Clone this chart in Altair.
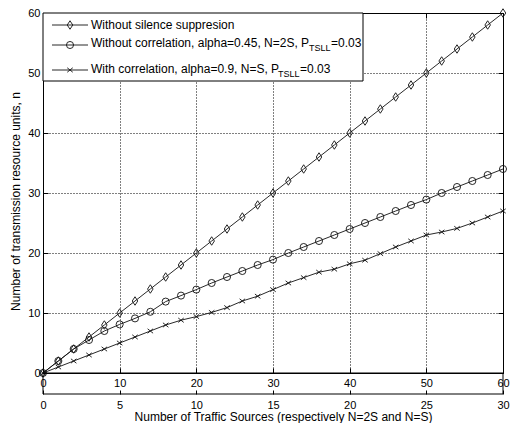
import altair as alt
import pandas as pd

# ---------------- data ----------------
sources_2s = list(range(0, 62, 2))  # upper x scale, 0..60
without_suppression = [0, 2, 4, 6, 8, 10, 12, 14, 16, 18, 20, 22, 24, 26, 28, 30,
                       32, 34, 36, 38, 40, 42, 44, 46, 48, 50, 52, 54, 56, 58, 60]
without_correlation = [0, 2, 4, 5.5, 7, 8.1, 9.1, 10.2, 11.9, 12.9, 13.9, 15, 16, 17, 18, 18.9,
                       20, 21, 22, 23, 24, 25, 26, 27, 28, 28.9, 30, 31, 32, 33, 34]
with_correlation = [0, 1, 2, 3, 4, 5, 6, 7, 8, 8.8, 9.4, 10.1, 10.9, 12, 12.8, 13.9,
                    15, 15.9, 16.8, 17.3, 18.2, 18.8, 19.9, 21, 22, 23, 23.5, 24.1, 25, 26, 27]

x_ticks_main = [0, 10, 20, 30, 40, 50, 60]
x_ticks_sources = [0, 5, 10, 15, 20, 25, 30]
y_ticks = [0, 10, 20, 30, 40, 50, 60]

legend_text = ["Without silence suppresion",
               "Without correlation, alpha=0.45, N=2S, P",
               "With correlation, alpha=0.9, N=S, P"]
legend_sub = ["", "TSLL", "TSLL"]
legend_tail = ["", "=0.03", "=0.03"]

x_title = "Number of Traffic Sources (respectively N=2S and N=S)"
y_title = "Number of transmission resource units, n"

# ---------------- layout / style ----------------
W, H = 460, 360
FONT = "Liberation Sans"
DIAMOND = "M0,-1L0.65,0L0,1L-0.65,0Z"
XMARK = "M-1,-0.8L1,0.8M-1,0.8L1,-0.8"
shapes = [DIAMOND, "circle", XMARK]
sizes = [72, 50, 30]
series_values = [without_suppression, without_correlation, with_correlation]

one = pd.DataFrame({"k": [0]})

x_enc = alt.X("x:Q", scale=alt.Scale(domain=[0, 60], nice=False, zero=False),
              axis=alt.Axis(orient="bottom", values=x_ticks_main, ticks=False, domain=False,
                            labelPadding=4, labelFlush=False, labelFontSize=11, labelColor="black",
                            grid=True, gridColor="black", gridDash=[1, 2], gridWidth=1,
                            title=x_title, titleFontSize=12, titleFontWeight="normal",
                            titleColor="black", titleX=240, titleY=43, titleBaseline="middle"))
y_enc = alt.Y("y:Q", scale=alt.Scale(domain=[0, 60], nice=False, zero=False),
              axis=alt.Axis(orient="left", values=y_ticks, ticks=False, domain=False,
                            labelPadding=3, labelFontSize=11, labelColor="black",
                            grid=True, gridColor="black", gridDash=[1, 2], gridWidth=1,
                            title=y_title, titleFontSize=12, titleFontWeight="normal",
                            titleColor="black", titleX=-28, titleY=188, titleBaseline="middle"))

data_layers = []
for vals, shp, sz in zip(series_values, shapes, sizes):
    d = pd.DataFrame({"x": sources_2s, "y": vals})
    base = alt.Chart(d).encode(x=x_enc, y=y_enc)
    data_layers.append(base.mark_line(color="#111", strokeWidth=0.9))
    data_layers.append(base.mark_point(shape=shp, size=sz, filled=False, color="#111",
                                       strokeWidth=0.9, opacity=1))

# ---------------- legend (drawn inside the plot) ----------------
leg = [alt.Chart(one).mark_rect(fill="white", stroke="black", strokeWidth=1).encode(
    x=alt.value(0), x2=alt.value(320), y=alt.value(0), y2=alt.value(68))]
row_sym_y = [12, 32, 57]
row_txt_y = [12, 30, 56]
sub_x = [0, 266, 235]
tail_x = [0, 288, 257]
for i in range(3):
    leg.append(alt.Chart(one).mark_rule(color="#111", strokeWidth=0.9).encode(
        x=alt.value(9), x2=alt.value(45), y=alt.value(row_sym_y[i])))
    leg.append(alt.Chart(one).mark_point(shape=shapes[i], size=sizes[i], filled=False,
                                         color="#111", strokeWidth=0.9, opacity=1).encode(
        x=alt.value(27), y=alt.value(row_sym_y[i])))
    leg.append(alt.Chart(one).mark_text(align="left", baseline="middle", fontSize=12,
                                        font=FONT, color="black").encode(
        x=alt.value(48), y=alt.value(row_txt_y[i]), text=alt.value(legend_text[i])))
    if legend_sub[i]:
        leg.append(alt.Chart(one).mark_text(align="left", baseline="middle", fontSize=9,
                                            font=FONT, color="black").encode(
            x=alt.value(sub_x[i]), y=alt.value(row_txt_y[i] + 5), text=alt.value(legend_sub[i])))
        leg.append(alt.Chart(one).mark_text(align="left", baseline="middle", fontSize=12,
                                            font=FONT, color="black").encode(
            x=alt.value(tail_x[i]), y=alt.value(row_txt_y[i]), text=alt.value(legend_tail[i])))

# box of the second (lower) x axis
leg.append(alt.Chart(one).mark_rect(fillOpacity=0, stroke="black", strokeWidth=1).encode(
    x=alt.value(0), x2=alt.value(W), y=alt.value(H), y2=alt.value(381)))

main = alt.layer(*data_layers, *leg)

# ---------------- inward tick marks (MATLAB style) ----------------
def tick_axis(field, orient, offset, values, dom):
    return dict(field=field, type="quantitative",
                scale=alt.Scale(domain=dom, nice=False, zero=False),
                axis=alt.Axis(orient=orient, offset=offset, values=values, labels=False,
                              domain=False, grid=False, ticks=True, tickSize=5,
                              tickColor="black", title=None))

tick_df = pd.DataFrame({"x": [0, 60], "y": [0, 60]})
ticks_a = alt.Chart(tick_df).mark_point(opacity=0).encode(
    x=alt.X(**tick_axis("x", "top", -H, x_ticks_main, [0, 60])),
    y=alt.Y(**tick_axis("y", "right", -W, y_ticks, [0, 60])))
ticks_b = alt.Chart(tick_df).mark_point(opacity=0).encode(
    x=alt.X(**tick_axis("x", "bottom", -H, x_ticks_main, [0, 60])),
    y=alt.Y(**tick_axis("y", "left", -W, y_ticks, [0, 60])))

# ---------------- second x axis: number of traffic sources 0..30 ----------------
src_df = pd.DataFrame({"s": x_ticks_sources})
sources_axis = alt.Chart(src_df).mark_point(opacity=0).encode(
    x=alt.X("s:Q", scale=alt.Scale(domain=[0, 30], nice=False, zero=False),
            axis=alt.Axis(orient="top", offset=-381, values=x_ticks_sources, domain=False,
                          ticks=True, tickSize=4, tickColor="black", labelBaseline="top",
                          labelPadding=-9, labelFlush=False, labelFontSize=11,
                          labelColor="black", grid=False, title=None)))

chart = alt.layer(main, ticks_a, ticks_b, sources_axis).resolve_scale(
    x="independent", y="independent").properties(
    width=W, height=H,
    padding={"left": 35, "top": 5, "right": 7, "bottom": 50},
    autosize=alt.AutoSizeParams(type="none"),
    background="white",
).configure(font=FONT).configure_view(stroke="black", strokeWidth=1)

chart.save("out.html", embed_options={"renderer": "svg", "actions": False})
